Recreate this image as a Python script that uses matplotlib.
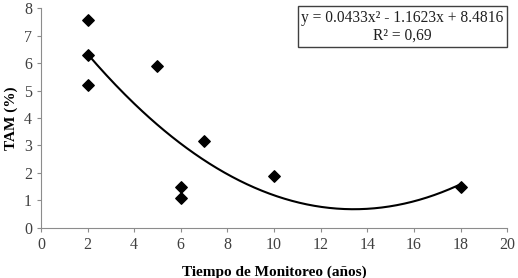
import matplotlib.pyplot as plt
import numpy as np

plt.rcParams['font.family'] = ['Liberation Serif', 'DejaVu Serif']

# Observed points
tiempo = [2, 2, 2, 5, 6, 6, 7, 10, 18]
tam = [7.55, 6.3, 5.2, 5.9, 1.5, 1.1, 3.15, 1.9, 1.5]

# Polynomial trend coefficients (from equation on chart)
coef = [0.0433, -1.1623, 8.4816]

fig = plt.figure(figsize=(5.18, 2.78), dpi=100)
ax = fig.add_axes([0.079, 0.180, 0.900, 0.791])

ax.scatter(tiempo, tam, marker='D', s=34, color='black', zorder=3)

xs = np.linspace(min(tiempo), max(tiempo), 200)
ax.plot(xs, np.polyval(coef, xs), color='black', lw=1.5, zorder=2)

ax.set_xlim(0, 20)
ax.set_ylim(0, 8)
ax.set_xticks(range(0, 21, 2))
ax.set_yticks(range(0, 9))

for s in ['top', 'right']:
    ax.spines[s].set_visible(False)
for s in ['left', 'bottom']:
    ax.spines[s].set_color('#8c8c8c')
ax.tick_params(colors='#8c8c8c', labelcolor='#404040', labelsize=11.5, length=3)

ax.set_xlabel('Tiempo de Monitoreo (años)', fontsize=11, fontweight='bold', labelpad=9)
ax.set_ylabel('TAM (%)', fontsize=11, fontweight='bold', labelpad=4)

ax.text(0.775, 0.915, 'y = 0.0433x² - 1.1623x + 8.4816\nR² = 0,69',
        transform=ax.transAxes, ha='center', va='center', fontsize=11.2,
        color='#202020', linespacing=1.2,
        bbox=dict(boxstyle='square,pad=0.22', fc='white', ec='#404040', lw=1))

fig.savefig('out.png', dpi=100)
